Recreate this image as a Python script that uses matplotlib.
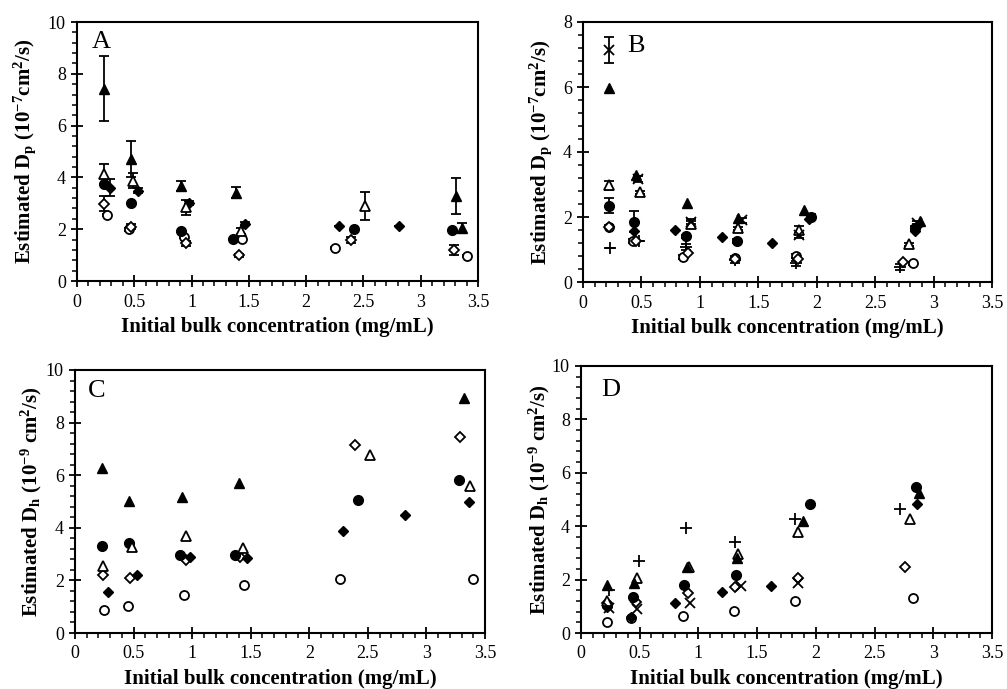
import matplotlib
matplotlib.use("Agg")
import matplotlib.pyplot as plt
from matplotlib.ticker import MultipleLocator
import numpy as np

plt.rcParams['font.family'] = 'Liberation Serif'
plt.rcParams['mathtext.fontset'] = 'custom'
plt.rcParams['mathtext.rm'] = 'Liberation Serif'
plt.rcParams['mathtext.bf'] = 'Liberation Serif:bold'
plt.rcParams['mathtext.it'] = 'Liberation Serif:italic'

# Panel A: estimated Dp (10^-7 cm2/s)
a_tri_f_x = [0.24, 0.47, 0.91, 1.39, 3.31, 3.36]
a_tri_f_y = [7.43, 4.70, 3.68, 3.41, 3.28, 2.06]
a_tri_f_e = [1.25, 0.70, 0.20, 0.22, 0.68, 0.18]
a_tri_o_x = [0.24, 0.49, 0.95, 1.43, 2.51]
a_tri_o_y = [4.13, 3.88, 2.84, 1.93, 2.90]
a_tri_o_e = [0.38, 0.30, 0.28, 0.10, 0.55]
a_circ_f_x = [0.24, 0.47, 0.91, 1.36, 2.42, 3.27]
a_circ_f_y = [3.74, 3.02, 1.93, 1.61, 1.99, 1.97]
a_dia_f_x = [0.29, 0.53, 0.98, 1.47, 2.29, 2.81]
a_dia_f_y = [3.60, 3.48, 3.02, 2.22, 2.11, 2.11]
a_dia_f_e = [0.32, 0.10, 0.08, 0.05, 0.0, 0.0]
a_dia_o_x = [0.24, 0.47, 0.95, 1.41, 2.39, 3.29]
a_dia_o_y = [2.99, 2.10, 1.45, 0.99, 1.58, 1.20]
a_dia_o_e = [0.30, 0.10, 0.10, 0.06, 0.12, 0.18]
a_circ_o_x = [0.26, 0.45, 0.93, 1.44, 2.25, 3.40]
a_circ_o_y = [2.55, 1.99, 1.71, 1.61, 1.27, 0.96]
a_circ_o_e = [0.05, 0.05, 0.05, 0.05, 0.05, 0.05]

# Panel B: estimated Dp (10^-7 cm2/s)
b_cross_x = [0.225, 0.47, 0.92, 1.36, 1.85, 2.86]
b_cross_y = [7.13, 3.17, 1.85, 1.90, 1.44, 1.83]
b_cross_e = [0.40, 0.08, 0.08, 0.08, 0.08, 0.05]
b_tri_f_x = [0.22, 0.45, 0.89, 1.33, 1.89, 2.88]
b_tri_f_y = [5.96, 3.29, 2.42, 1.98, 2.21, 1.88]
b_tri_o_x = [0.22, 0.49, 0.92, 1.33, 1.85, 2.79]
b_tri_o_y = [2.98, 2.76, 1.78, 1.65, 1.61, 1.16]
b_tri_o_e = [0.14, 0.05, 0.10, 0.05, 0.10, 0.05]
b_circ_f_x = [0.22, 0.44, 0.88, 1.32, 1.95, 2.84]
b_circ_f_y = [2.34, 1.85, 1.41, 1.26, 2.01, 1.65]
b_circ_f_e = [0.23, 0.32, 0.05, 0.05, 0.08, 0.08]
b_dia_f_x = [0.44, 0.79, 1.19, 1.62, 1.93, 2.84]
b_dia_f_y = [1.57, 1.59, 1.39, 1.20, 1.95, 1.57]
b_dia_o_x = [0.22, 0.45, 0.90, 1.30, 1.84, 2.74]
b_dia_o_y = [1.70, 1.26, 0.89, 0.72, 0.70, 0.62]
b_circ_o_x = [0.22, 0.43, 0.86, 1.30, 1.82, 2.82]
b_circ_o_y = [1.70, 1.26, 0.77, 0.74, 0.80, 0.58]
b_circ_o_e = [0.05, 0.05, 0.05, 0.05, 0.05, 0.05]
b_plus_x = [0.23, 0.48, 0.88, 1.30, 1.82, 2.71]
b_plus_y = [1.04, 1.26, 1.08, 0.68, 0.57, 0.46]
b_plus_e = [0.0, 0.0, 0.10, 0.08, 0.08, 0.10]

# Panel C: estimated Dh (10^-9 cm2/s)
c_tri_f_x = [0.23, 0.46, 0.91, 1.40, 3.32]
c_tri_f_y = [6.26, 5.03, 5.18, 5.69, 8.95]
c_tri_o_x = [0.24, 0.49, 0.95, 1.43, 2.52, 3.37]
c_tri_o_y = [2.53, 3.26, 3.68, 3.24, 6.76, 5.59]
c_circ_f_x = [0.23, 0.46, 0.90, 1.37, 2.42, 3.28]
c_circ_f_y = [3.29, 3.43, 2.95, 2.95, 5.05, 5.82]
c_dia_f_x = [0.28, 0.53, 0.98, 1.47, 2.29, 2.82, 3.36]
c_dia_f_y = [1.55, 2.22, 2.88, 2.86, 3.88, 4.50, 4.99]
c_dia_o_x = [0.24, 0.47, 0.95, 1.41, 2.39, 3.29]
c_dia_o_y = [2.19, 2.10, 2.76, 2.88, 7.13, 7.44]
c_circ_o_x = [0.25, 0.45, 0.93, 1.44, 2.26, 3.40]
c_circ_o_y = [0.87, 1.03, 1.44, 1.84, 2.05, 2.07]

# Panel D: estimated Dh (10^-9 cm2/s)
d_tri_f_x = [0.22, 0.45, 0.90, 1.33, 1.89, 2.88]
d_tri_f_y = [1.80, 1.86, 2.46, 2.80, 4.21, 5.26]
d_tri_o_x = [0.22, 0.48, 0.92, 1.34, 1.85, 2.80]
d_tri_o_y = [1.21, 2.05, 2.48, 2.96, 3.80, 4.27]
d_circ_f_x = [0.22, 0.44, 0.88, 1.32, 1.95, 2.85]
d_circ_f_y = [1.05, 1.34, 1.79, 2.16, 4.84, 5.46]
d_dia_f_x = [0.22, 0.43, 0.80, 1.20, 1.62, 2.86]
d_dia_f_y = [0.99, 0.61, 1.14, 1.54, 1.76, 4.82]
d_dia_o_x = [0.22, 0.47, 0.91, 1.31, 1.85, 2.76]
d_dia_o_y = [1.11, 1.17, 1.49, 1.74, 2.07, 2.48]
d_circ_o_x = [0.22, 0.43, 0.87, 1.30, 1.82, 2.83]
d_circ_o_y = [0.42, 0.55, 0.64, 0.82, 1.20, 1.32]
d_plus_x = [0.24, 0.49, 0.89, 1.31, 1.82, 2.72]
d_plus_y = [1.61, 2.70, 3.92, 3.42, 4.27, 4.64]
d_cross_x = [0.24, 0.48, 0.93, 1.36, 1.85]
d_cross_y = [0.92, 0.89, 1.14, 1.77, 1.86]

# marker styles
styles = {
    'tri_f': dict(marker='^', ms=7, mfc='black', mec='black'),
    'tri_o': dict(marker='^', ms=7, mfc='white', mec='black', mew=1.3),
    'circ_f': dict(marker='o', ms=7, mfc='black', mec='black'),
    'circ_o': dict(marker='o', ms=6.5, mfc='white', mec='black', mew=1.3),
    'dia_f': dict(marker='D', ms=5, mfc='black', mec='black'),
    'dia_o': dict(marker='D', ms=5, mfc='white', mec='black', mew=1.3),
    'plus': dict(marker='+', ms=8, mec='black', mew=1.3),
    'cross': dict(marker='x', ms=7, mec='black', mew=1.3),
}

W, H = 1007, 689


def make_axes(fig, l, r, t, b):
    return fig.add_axes([l / W, 1 - b / H, (r - l) / W, (b - t) / H])


def draw(ax, key, x, y, err=None):
    st = styles[key]
    if err is not None:
        ax.errorbar(x, y, yerr=err, fmt='none', ecolor='black', elinewidth=1.3,
                    capsize=3.5, capthick=1.3, zorder=2)
    ax.plot(x, y, linestyle='none', zorder=3, **st)


def style_axes(ax, ymax, letter, lx, ly, ylabel, ylab_x):
    ax.set_xlim(0, 3.5)
    ax.set_ylim(0, ymax)
    ax.xaxis.set_major_locator(MultipleLocator(0.5))
    ax.xaxis.set_minor_locator(MultipleLocator(0.1))
    ax.yaxis.set_major_locator(MultipleLocator(2))
    ax.yaxis.set_minor_locator(MultipleLocator(0.4))
    ax.xaxis.set_major_formatter(plt.FuncFormatter(lambda v, p: f"{v:g}"))
    ax.tick_params(which='major', direction='inout', length=8, width=1.3, labelsize=13, pad=4)
    ax.tick_params(which='minor', direction='out', length=3.5, width=1.1)
    ax.tick_params(axis='x', which='major', pad=5)
    for s in ax.spines.values():
        s.set_linewidth(1.5)
    ax.text(lx, ly, letter, transform=ax.transAxes, fontsize=19, va='baseline')
    ax.set_xlabel('Initial bulk concentration (mg/mL)', fontsize=15, fontweight='bold', labelpad=5)
    ax.set_ylabel(ylabel, fontsize=15, fontweight='bold')
    ax.yaxis.set_label_coords(ylab_x, 0.5)


fig = plt.figure(figsize=(W / 100, H / 100), dpi=100)

lab_p = r'Estimated D$_\mathbf{p}$ (10$^\mathbf{-7}$cm$^\mathbf{2}$/s)'
lab_h = r'Estimated D$_\mathbf{h}$ (10$^\mathbf{-9}$ cm$^\mathbf{2}$/s)'

axA = make_axes(fig, 77, 478, 22, 281)
draw(axA, 'circ_o', a_circ_o_x, a_circ_o_y, a_circ_o_e)
draw(axA, 'dia_o', a_dia_o_x, a_dia_o_y, a_dia_o_e)
draw(axA, 'dia_f', a_dia_f_x, a_dia_f_y, a_dia_f_e)
draw(axA, 'circ_f', a_circ_f_x, a_circ_f_y)
draw(axA, 'tri_o', a_tri_o_x, a_tri_o_y, a_tri_o_e)
draw(axA, 'tri_f', a_tri_f_x, a_tri_f_y, a_tri_f_e)
style_axes(axA, 10, 'A', 0.037, 0.90, lab_p, -0.097)

axB = make_axes(fig, 583, 992, 22, 282)
draw(axB, 'plus', b_plus_x, b_plus_y, b_plus_e)
draw(axB, 'circ_o', b_circ_o_x, b_circ_o_y, b_circ_o_e)
draw(axB, 'dia_o', b_dia_o_x, b_dia_o_y)
draw(axB, 'dia_f', b_dia_f_x, b_dia_f_y)
draw(axB, 'circ_f', b_circ_f_x, b_circ_f_y, b_circ_f_e)
draw(axB, 'tri_o', b_tri_o_x, b_tri_o_y, b_tri_o_e)
draw(axB, 'tri_f', b_tri_f_x, b_tri_f_y)
draw(axB, 'cross', b_cross_x, b_cross_y, b_cross_e)
style_axes(axB, 8, 'B', 0.108, 0.885, lab_p, -0.07)

axC = make_axes(fig, 75, 485, 370, 633)
draw(axC, 'circ_o', c_circ_o_x, c_circ_o_y)
draw(axC, 'dia_o', c_dia_o_x, c_dia_o_y)
draw(axC, 'dia_f', c_dia_f_x, c_dia_f_y)
draw(axC, 'circ_f', c_circ_f_x, c_circ_f_y)
draw(axC, 'tri_o', c_tri_o_x, c_tri_o_y)
draw(axC, 'tri_f', c_tri_f_x, c_tri_f_y)
style_axes(axC, 10, 'C', 0.032, 0.897, lab_h, -0.075)

axD = make_axes(fig, 581, 992, 366, 633)
draw(axD, 'circ_o', d_circ_o_x, d_circ_o_y)
draw(axD, 'dia_o', d_dia_o_x, d_dia_o_y)
draw(axD, 'dia_f', d_dia_f_x, d_dia_f_y)
draw(axD, 'circ_f', d_circ_f_x, d_circ_f_y)
draw(axD, 'tri_o', d_tri_o_x, d_tri_o_y)
draw(axD, 'tri_f', d_tri_f_x, d_tri_f_y)
draw(axD, 'plus', d_plus_x, d_plus_y)
draw(axD, 'cross', d_cross_x, d_cross_y)
style_axes(axD, 10, 'D', 0.049, 0.888, lab_h, -0.07)

fig.savefig('out.png', dpi=100)
